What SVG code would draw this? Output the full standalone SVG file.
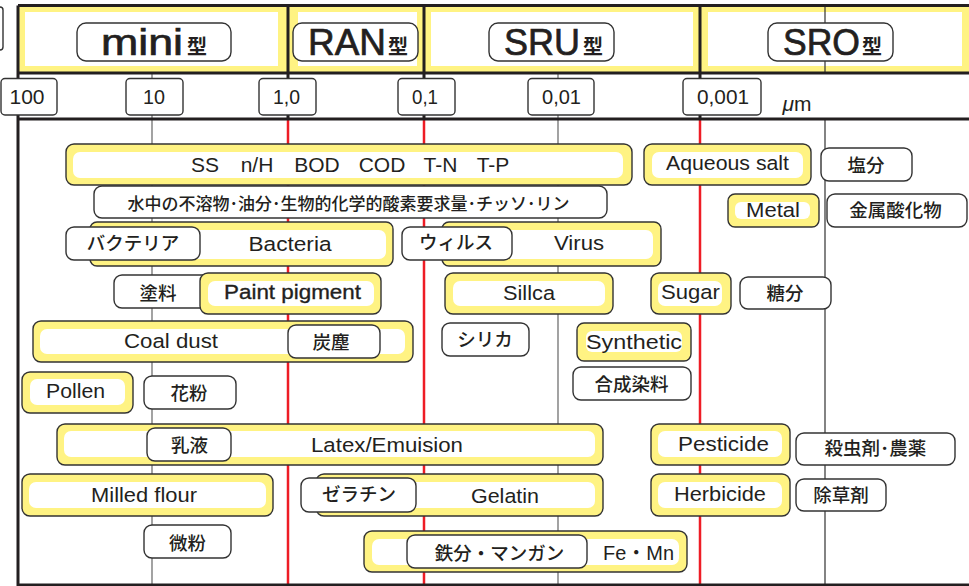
<svg xmlns="http://www.w3.org/2000/svg" width="969" height="586" viewBox="0 0 969 586">
<style>
text{font-family:"Liberation Sans","Noto Sans CJK JP",sans-serif;fill:#231f20;text-anchor:middle;font-size:20.5px}
.j{font-family:"Noto Sans CJK JP",sans-serif;font-size:18.5px;font-weight:500}
.l{font-size:17px}
.w{fill:#fff;stroke:#333;stroke-width:1.4}
.y{fill:#fff383;stroke:#333;stroke-width:1.4}
.i{fill:#fff}
.b{fill:none;stroke:#231f20;stroke-width:3}
.g{stroke:#666;stroke-width:1.2;fill:none}
.d{stroke:#333;stroke-width:1.2;fill:none}
.r{stroke:#ee1c25;stroke-width:2.5;fill:none}
.h{font-size:37px;stroke:#231f20;stroke-width:.7}
.t{font-size:20px;font-weight:700;font-family:"Noto Sans CJK JP",sans-serif}
.n{font-size:20px}
.p{font-size:21px}
</style>
<rect width="969" height="586" fill="#fff"/>
<g id="bands">
<rect x="19" y="6" width="950" height="67" fill="#fff383"/>
<rect x="25" y="12" width="253" height="54" fill="#fff"/>
<rect x="298" y="12" width="119" height="54" fill="#fff"/>
<rect x="431" y="12" width="262" height="54" fill="#fff"/>
<rect x="708" y="12" width="254" height="54" fill="#fff"/>
</g>
<g id="connectors">
<path class="g" d="M152 73V586M558 73V586"/>
<path class="d" d="M825 6V73M825 119V586"/>
<path class="r" d="M288 119V586M424 119V586M700 119V586"/>
<path class="b" d="M18 5.5H969M18 73H969M18 119H969M18 585H969M18 5.5V586M288 5.5V119M424 5.5V119M700 5.5V119"/>
<path class="w" d="M-6 7H0Q3 7 3 10V47Q3 50 0 50H-6Z"/>
</g>
<g id="mini"><rect class="w" x="77" y="23" width="154" height="38" rx="9"/><text class="h" x="142" y="55" textLength="82" lengthAdjust="spacingAndGlyphs">mini</text><text class="t" x="197" y="54">型</text></g>
<g id="ran"><rect class="w" x="293" y="23" width="125" height="38" rx="9"/><text class="h" x="347" y="55" textLength="78" lengthAdjust="spacingAndGlyphs">RAN</text><text class="t" x="398" y="54">型</text></g>
<g id="sru"><rect class="w" x="489" y="23" width="125" height="38" rx="9"/><text class="h" x="542" y="55" textLength="76" lengthAdjust="spacingAndGlyphs">SRU</text><text class="t" x="593" y="54">型</text></g>
<g id="sro"><rect class="w" x="768" y="23" width="125" height="38" rx="9"/><text class="h" x="821.5" y="55" textLength="77" lengthAdjust="spacingAndGlyphs">SRO</text><text class="t" x="872" y="54">型</text></g>
<g id="s100"><rect class="w" x="1" y="78.500" width="56" height="36.500" rx="4"/><text class="n" x="27" y="104" textLength="35" lengthAdjust="spacingAndGlyphs">100</text></g>
<g id="s10"><rect class="w" x="126" y="78.500" width="57" height="36.500" rx="4"/><text class="n" x="154" y="104" textLength="22" lengthAdjust="spacingAndGlyphs">10</text></g>
<g id="s1"><rect class="w" x="259" y="78.500" width="57" height="36.500" rx="4"/><text class="n" x="286.500" y="104" textLength="27" lengthAdjust="spacingAndGlyphs">1,0</text></g>
<g id="s01"><rect class="w" x="398" y="78.500" width="57" height="36.500" rx="4"/><text class="n" x="425" y="104" textLength="26" lengthAdjust="spacingAndGlyphs">0,1</text></g>
<g id="s001"><rect class="w" x="528" y="78.500" width="66" height="36.500" rx="4"/><text class="n" x="561.500" y="104" textLength="39" lengthAdjust="spacingAndGlyphs">0,01</text></g>
<g id="s0001"><rect class="w" x="683" y="78.500" width="78" height="36.500" rx="4"/><text class="n" x="723" y="104" textLength="52" lengthAdjust="spacingAndGlyphs">0,001</text></g>
<g id="um"><text x="797" y="111" class="n" textLength="29" lengthAdjust="spacingAndGlyphs"><tspan font-style="italic">μ</tspan>m</text></g>
<g id="ss"><rect class="y" x="66" y="144" width="566" height="41" rx="8"/><rect class="i" x="73" y="152" width="550" height="26" rx="7"/><text class="p" y="172"><tspan x="205">SS</tspan><tspan x="257">n/H</tspan><tspan x="317">BOD</tspan><tspan x="382">COD</tspan><tspan x="440.500">T-N</tspan><tspan x="493">T-P</tspan></text></g>
<g id="ssj"><rect class="w" x="94" y="186" width="513" height="32" rx="8"/><text class="j l" x="348.500" y="210">水中の不溶物･油分･生物的化学的酸素要求量･チッソ･リン</text></g>
<g id="bac"><rect class="y" x="90" y="222" width="303" height="44" rx="7"/><rect class="i" x="98" y="230" width="288" height="29" rx="7"/><text x="290" y="251" textLength="83" lengthAdjust="spacingAndGlyphs">Bacteria</text><rect class="w" x="66" y="227" width="134" height="33" rx="8"/><text class="j" x="133" y="250">バクテリア</text></g>
<g id="vir"><rect class="y" x="442" y="222" width="219" height="44" rx="7"/><rect class="i" x="450" y="230" width="203" height="29" rx="7"/><text x="579" y="250" textLength="50" lengthAdjust="spacingAndGlyphs">Virus</text><rect class="w" x="402" y="227" width="110" height="33" rx="8"/><text class="j" x="456" y="249">ウィルス</text></g>
<g id="pai"><rect class="w" x="114" y="275" width="100" height="33" rx="8"/><text class="j" x="158" y="300">塗料</text><rect class="y" x="200" y="273" width="181" height="41" rx="8"/><rect class="i" x="208" y="281" width="166" height="25" rx="7"/><text x="292.500" y="299" stroke="#231f20" stroke-width=".35" textLength="137" lengthAdjust="spacingAndGlyphs">Paint pigment</text></g>
<g id="sil"><rect class="y" x="445" y="273" width="168" height="41" rx="8"/><rect class="i" x="453" y="281" width="152" height="25" rx="7"/><text x="529" y="300" textLength="52" lengthAdjust="spacingAndGlyphs">Sillca</text></g>
<g id="sug"><rect class="y" x="651" y="273" width="80" height="41" rx="8"/><rect class="i" x="658" y="281" width="64" height="25" rx="7"/><text x="690.500" y="299" textLength="59" lengthAdjust="spacingAndGlyphs">Sugar</text></g>
<g id="sugj"><rect class="w" x="740" y="277" width="91" height="32" rx="8"/><text class="j" x="785" y="300">糖分</text></g>
<g id="aq"><rect class="y" x="644" y="144" width="167" height="41" rx="8"/><rect class="i" x="652" y="152" width="151" height="26" rx="7"/><text x="727.500" y="170" textLength="123" lengthAdjust="spacingAndGlyphs">Aqueous salt</text></g>
<g id="aqj"><rect class="w" x="821" y="148" width="91" height="33" rx="8"/><text class="j" x="866" y="172">塩分</text></g>
<g id="met"><rect class="y" x="728" y="194" width="91" height="33" rx="7"/><rect class="i" x="735" y="202" width="75" height="17" rx="6"/><text x="773" y="217" textLength="54" lengthAdjust="spacingAndGlyphs">Metal</text></g>
<g id="metj"><rect class="w" x="827" y="194" width="140" height="33" rx="8"/><text class="j" x="895.500" y="217">金属酸化物</text></g>
<g id="coal"><rect class="y" x="33" y="321" width="380" height="41" rx="8"/><rect class="i" x="40" y="329" width="365" height="25" rx="7"/><text x="171" y="348" textLength="94" lengthAdjust="spacingAndGlyphs">Coal dust</text><rect class="w" x="288" y="325" width="92" height="33" rx="8"/><text class="j" x="331" y="349">炭塵</text></g>
<g id="sij"><rect class="w" x="442" y="323" width="87" height="33" rx="8"/><text class="j" x="485" y="346">シリカ</text></g>
<g id="syn"><rect class="y" x="577" y="323" width="114" height="38" rx="7"/><rect class="i" x="586" y="331" width="96" height="21" rx="6"/><text x="634" y="349" textLength="96" lengthAdjust="spacingAndGlyphs">Synthetic</text></g>
<g id="synj"><rect class="w" x="573" y="367" width="118" height="33" rx="8"/><text class="j" x="631.500" y="391">合成染料</text></g>
<g id="pol"><rect class="y" x="22" y="372" width="111" height="41" rx="8"/><rect class="i" x="30" y="379" width="95" height="26" rx="7"/><text x="75.500" y="398" textLength="59" lengthAdjust="spacingAndGlyphs">Pollen</text></g>
<g id="polj"><rect class="w" x="144" y="376" width="92" height="33" rx="8"/><text class="j" x="189" y="400">花粉</text></g>
<g id="lat"><rect class="y" x="57" y="424" width="546" height="41" rx="8"/><rect class="i" x="64" y="431" width="531" height="26" rx="7"/><text x="387" y="452" textLength="152" lengthAdjust="spacingAndGlyphs">Latex/Emuision</text><rect class="w" x="147" y="428" width="84" height="33" rx="8"/><text class="j" x="189.500" y="452">乳液</text></g>
<g id="pes"><rect class="y" x="651" y="424" width="139" height="41" rx="8"/><rect class="i" x="658" y="431" width="124" height="26" rx="7"/><text x="723.500" y="451" textLength="91" lengthAdjust="spacingAndGlyphs">Pesticide</text></g>
<g id="pesj"><rect class="w" x="796" y="433" width="159" height="32" rx="8"/><text class="j" x="875.500" y="455">殺虫剤･農薬</text></g>
<g id="mil"><rect class="y" x="22" y="474" width="251" height="42" rx="8"/><rect class="i" x="29" y="482" width="237" height="26" rx="7"/><text x="144" y="501.500" textLength="106" lengthAdjust="spacingAndGlyphs">Milled flour</text></g>
<g id="gel"><rect class="y" x="316" y="474" width="287" height="42" rx="8"/><rect class="i" x="324" y="482" width="271" height="26" rx="7"/><text x="505" y="503" textLength="68" lengthAdjust="spacingAndGlyphs">Gelatin</text><rect class="w" x="301" y="478" width="115" height="34" rx="8"/><text class="j" x="359" y="501">ゼラチン</text></g>
<g id="her"><rect class="y" x="651" y="474" width="139" height="42" rx="8"/><rect class="i" x="658" y="482" width="124" height="26" rx="7"/><text x="720" y="501" textLength="92" lengthAdjust="spacingAndGlyphs">Herbicide</text></g>
<g id="herj"><rect class="w" x="796" y="479" width="90" height="32" rx="8"/><text class="j" x="841" y="502">除草剤</text></g>
<g id="micro"><rect class="w" x="144" y="525" width="87" height="33" rx="8"/><text class="j" x="187.500" y="550">微粉</text></g>
<g id="fe"><rect class="y" x="364" y="531" width="323" height="41" rx="8"/><rect class="i" x="372" y="539" width="307" height="26" rx="7"/><text x="638.500" y="560" textLength="71" lengthAdjust="spacingAndGlyphs">Fe・Mn</text><rect class="w" x="407" y="535" width="180" height="33" rx="8"/><text class="j" x="499.500" y="560">鉄分・マンガン</text></g>
</svg>
